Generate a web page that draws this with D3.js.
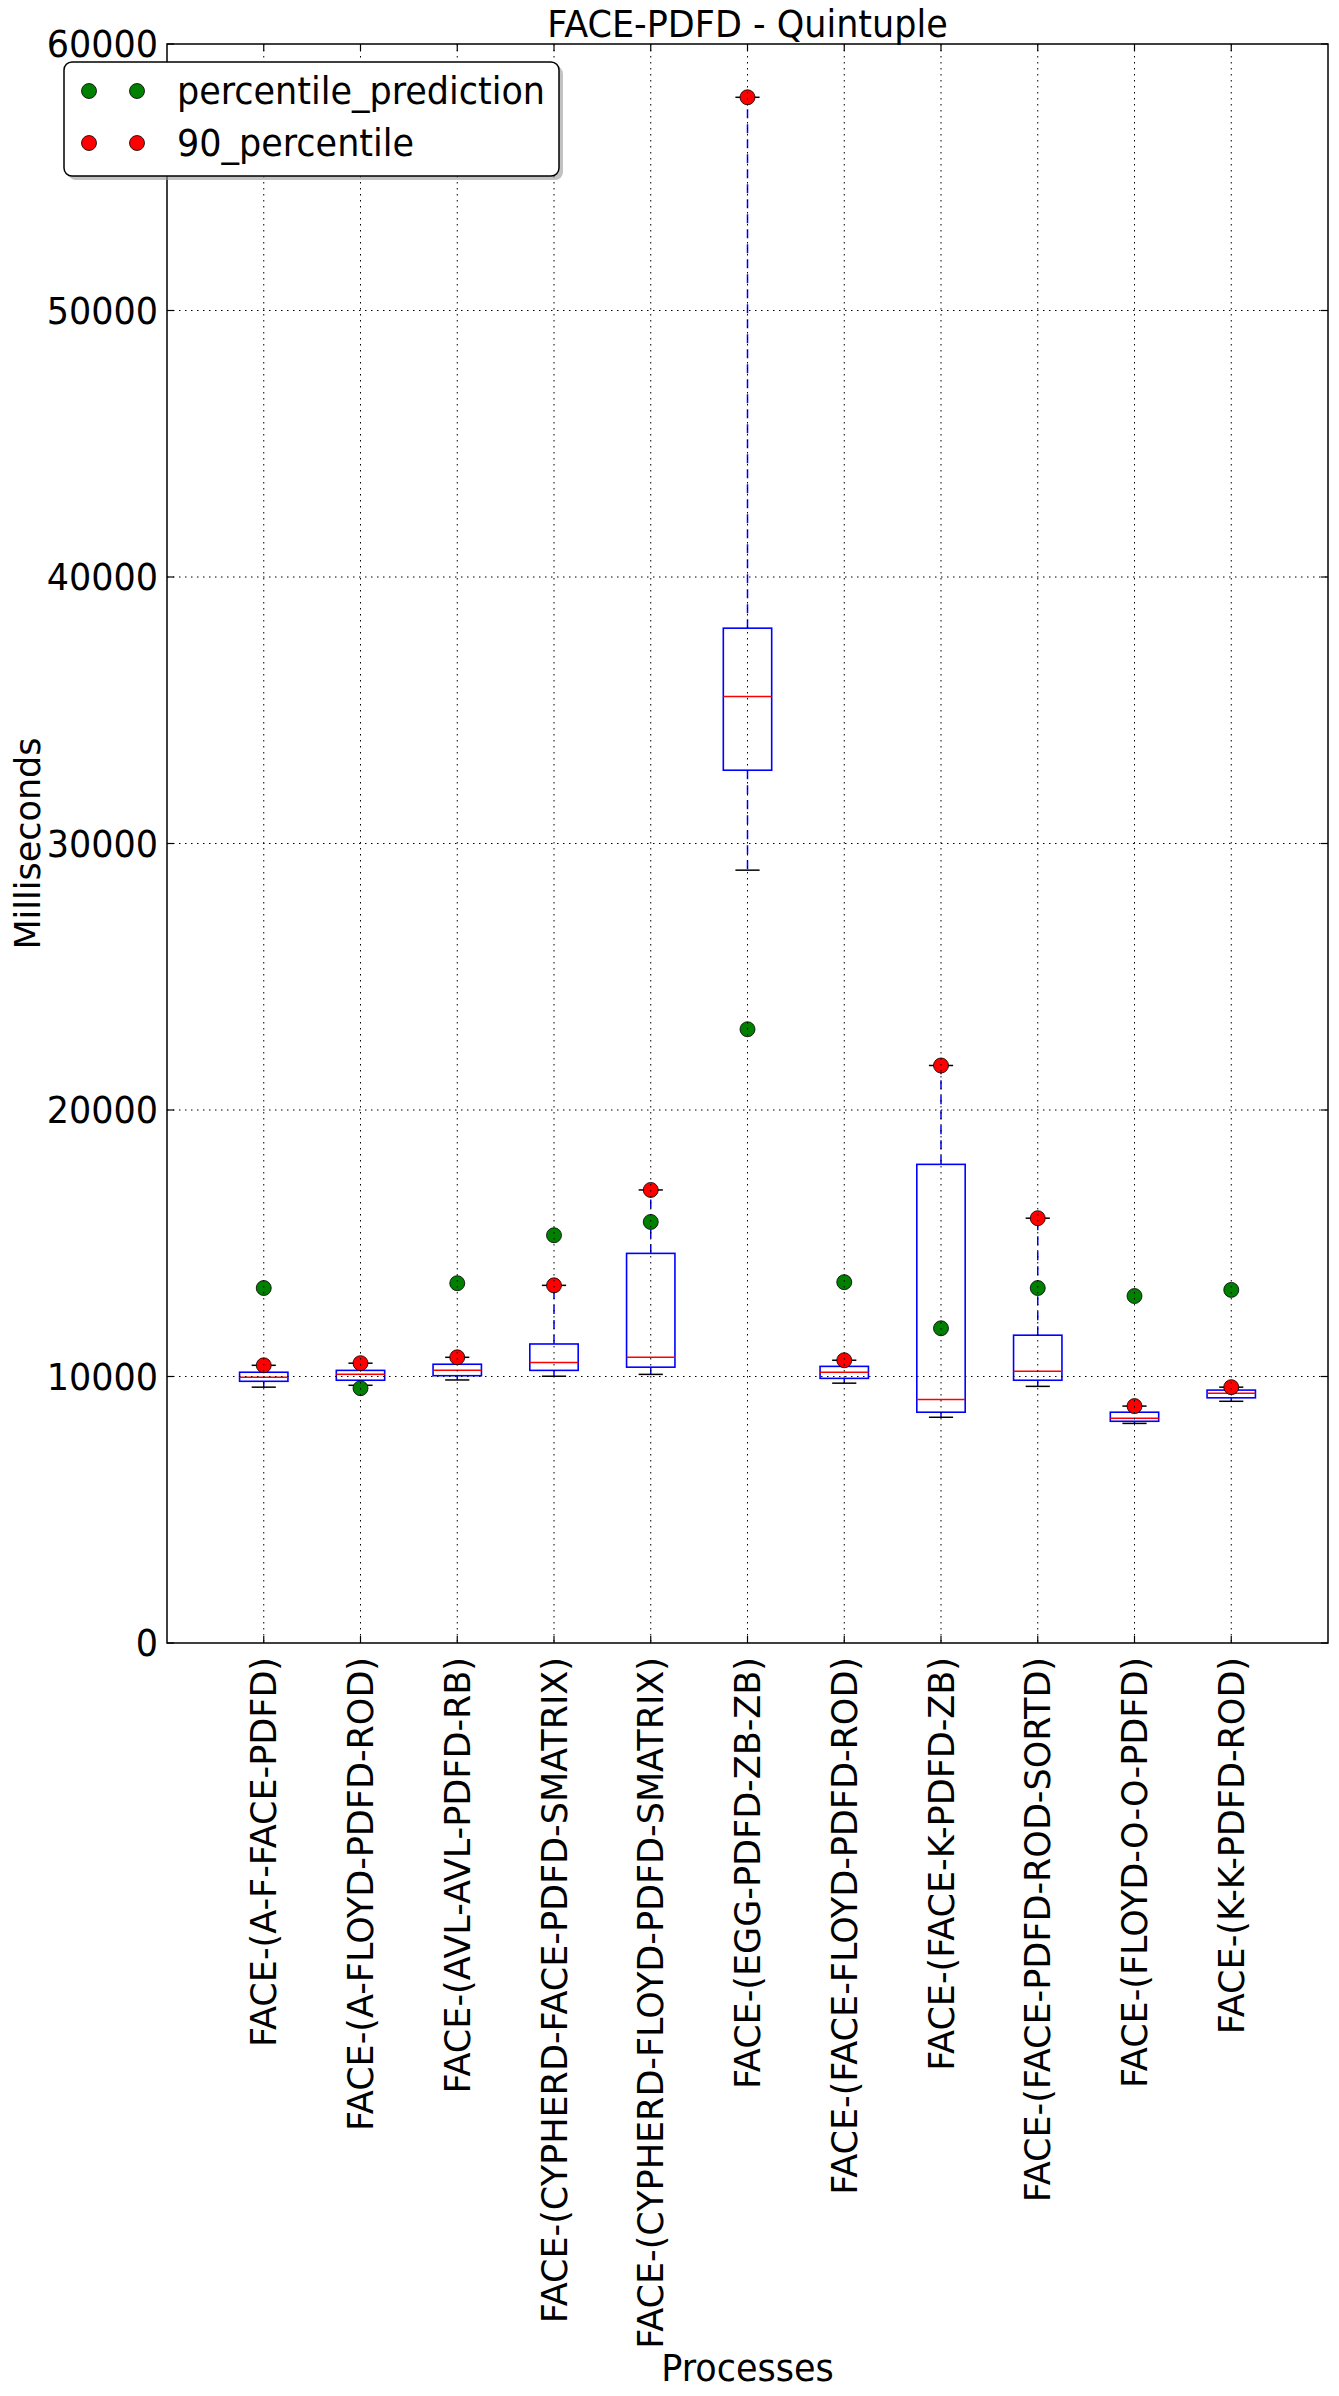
<!DOCTYPE html>
<html>
<head>
<meta charset="utf-8">
<script src="https://cdn.jsdelivr.net/npm/d3@7"></script>
<style>
  html, body { margin: 0; padding: 0; background: #fff; }
  svg { display: block; }
  text { font-family: "DejaVu Sans", sans-serif; fill: #000; }
</style>
</head>
<body>
<script>
// ---- data ----
const categories = [
  "FACE-(A-F-FACE-PDFD)",
  "FACE-(A-FLOYD-PDFD-ROD)",
  "FACE-(AVL-AVL-PDFD-RB)",
  "FACE-(CYPHERD-FACE-PDFD-SMATRIX)",
  "FACE-(CYPHERD-FLOYD-PDFD-SMATRIX)",
  "FACE-(EGG-PDFD-ZB-ZB)",
  "FACE-(FACE-FLOYD-PDFD-ROD)",
  "FACE-(FACE-K-PDFD-ZB)",
  "FACE-(FACE-PDFD-ROD-SORTD)",
  "FACE-(FLOYD-O-O-PDFD)",
  "FACE-(K-K-PDFD-ROD)"
];
const whiskerLow  = [9600, 9670, 9870, 10010, 10080, 29000, 9750, 8470, 9630, 8240, 9070];
const q1          = [9820, 9860, 10030, 10230, 10350, 32750, 9930, 8660, 9860, 8320, 9200];
const median      = [9970, 10080, 10230, 10530, 10720, 35520, 10160, 9140, 10200, 8430, 9370];
const q3          = [10160, 10230, 10460, 11220, 14620, 38080, 10380, 17960, 11550, 8660, 9490];
const whiskerHigh = [10420, 10500, 10720, 13420, 17000, 58000, 10610, 21670, 15940, 8890, 9600];
const percentilePrediction = [13320, 9560, 13500, 15300, 15800, 23030, 13540, 11810, 13320, 13020, 13250];
const percentile90 = [10420, 10500, 10720, 13420, 17000, 58000, 10610, 21670, 15940, 8890, 9600];
const yTicks = [0, 10000, 20000, 30000, 40000, 50000, 60000];
const seriesNames = ["percentile_prediction", "90_percentile"];

// ---- layout ----
const W = 1339, H = 2396;
const pL = 167, pR = 1328, pT = 44, pB = 1643;
const fs = 35;
const sy = 1.05; // slight vertical stretch of horizontal text

const svg = d3.select("body").append("svg").attr("width", W).attr("height", H);

const x = d3.scaleLinear().domain([0, categories.length + 1]).range([pL, pR]);
const y = d3.scaleLinear().domain([0, 60000]).range([pB, pT]);

const boxes = categories.map((c, i) => ({
  c, pos: i + 1, wl: whiskerLow[i], q1: q1[i], med: median[i], q3: q3[i], wh: whiskerHigh[i],
  pred: percentilePrediction[i], p90: percentile90[i]
}));

const bw = x(0.25) - x(0); // half box width
const cw = x(0.125) - x(0); // half cap width

const g = svg.append("g");

// whiskers
g.append("g").selectAll("line").data(boxes).join("line")
  .attr("x1", d => x(d.pos)).attr("x2", d => x(d.pos))
  .attr("y1", d => y(d.q1)).attr("y2", d => y(d.wl))
  .attr("stroke", "#0000ff").attr("stroke-width", 1.5).attr("stroke-dasharray", "9,6");
g.append("g").selectAll("line").data(boxes).join("line")
  .attr("x1", d => x(d.pos)).attr("x2", d => x(d.pos))
  .attr("y1", d => y(d.q3)).attr("y2", d => y(d.wh))
  .attr("stroke", "#0000ff").attr("stroke-width", 1.5).attr("stroke-dasharray", "9,6");
// caps
["wl", "wh"].forEach(k => {
  g.append("g").selectAll("line").data(boxes).join("line")
    .attr("x1", d => x(d.pos) - cw).attr("x2", d => x(d.pos) + cw)
    .attr("y1", d => y(d[k])).attr("y2", d => y(d[k]))
    .attr("stroke", "#000").attr("stroke-width", 1.5);
});
// boxes
g.append("g").selectAll("rect").data(boxes).join("rect")
  .attr("x", d => x(d.pos) - bw).attr("width", 2 * bw)
  .attr("y", d => y(d.q3)).attr("height", d => y(d.q1) - y(d.q3))
  .attr("fill", "none").attr("stroke", "#0000ff").attr("stroke-width", 1.6);
// medians
g.append("g").selectAll("line").data(boxes).join("line")
  .attr("x1", d => x(d.pos) - bw).attr("x2", d => x(d.pos) + bw)
  .attr("y1", d => y(d.med)).attr("y2", d => y(d.med))
  .attr("stroke", "#ff0000").attr("stroke-width", 1.5);

// points
g.append("g").selectAll("circle").data(boxes).join("circle")
  .attr("cx", d => x(d.pos)).attr("cy", d => y(d.pred)).attr("r", 7.5)
  .attr("fill", "#008000").attr("stroke", "#000").attr("stroke-width", 0.8);
g.append("g").selectAll("circle").data(boxes).join("circle")
  .attr("cx", d => x(d.pos)).attr("cy", d => y(d.p90)).attr("r", 7.5)
  .attr("fill", "#ff0000").attr("stroke", "#000").attr("stroke-width", 0.8);

// grid (drawn on top, classic style)
const grid = svg.append("g").attr("stroke", "#000").attr("stroke-width", 1).attr("stroke-dasharray", "1.5,4.5");
grid.append("g").selectAll("line").data(boxes).join("line")
  .attr("x1", d => x(d.pos)).attr("x2", d => x(d.pos)).attr("y1", pT).attr("y2", pB);
grid.append("g").selectAll("line").data(yTicks.filter(t => t > 0 && t < 60000)).join("line")
  .attr("x1", pL).attr("x2", pR).attr("y1", d => y(d)).attr("y2", d => y(d));

// ticks (inward, all sides)
const tk = svg.append("g").attr("stroke", "#000").attr("stroke-width", 1.2);
boxes.forEach(d => {
  tk.append("line").attr("x1", x(d.pos)).attr("x2", x(d.pos)).attr("y1", pB).attr("y2", pB - 7);
  tk.append("line").attr("x1", x(d.pos)).attr("x2", x(d.pos)).attr("y1", pT).attr("y2", pT + 7);
});
yTicks.forEach(t => {
  tk.append("line").attr("x1", pL).attr("x2", pL + 7).attr("y1", y(t)).attr("y2", y(t));
  tk.append("line").attr("x1", pR).attr("x2", pR - 7).attr("y1", y(t)).attr("y2", y(t));
});

// frame
svg.append("rect").attr("x", pL).attr("y", pT).attr("width", pR - pL).attr("height", pB - pT)
  .attr("fill", "none").attr("stroke", "#000").attr("stroke-width", 1.5);

// y tick labels
svg.append("g").selectAll("text").data(yTicks).join("text")
  .attr("transform", d => `translate(${pL - 9},${y(d)}) scale(1,${sy})`)
  .attr("dy", "0.36em")
  .attr("text-anchor", "end").attr("font-size", fs).text(d => d);

// x tick labels (rotated)
svg.append("g").selectAll("text").data(boxes).join("text")
  .attr("transform", d => `translate(${x(d.pos)},${pB + 14}) rotate(-90)`)
  .attr("dy", "0.36em").attr("text-anchor", "end").attr("font-size", fs).text(d => d.c);

// title and axis labels
svg.append("text").attr("transform", `translate(${(pL + pR) / 2},37) scale(1,${sy})`)
  .attr("text-anchor", "middle").attr("font-size", fs).text("FACE-PDFD - Quintuple");
svg.append("text").attr("transform", `translate(${(pL + pR) / 2},2381) scale(1,${sy})`)
  .attr("text-anchor", "middle").attr("font-size", fs).text("Processes");
svg.append("text").attr("transform", `translate(40,${(pT + pB) / 2}) rotate(-90)`)
  .attr("text-anchor", "middle").attr("font-size", fs).text("Milliseconds");

// legend
const lg = svg.append("g").attr("transform", "translate(64,62)");
lg.append("rect").attr("x", 4).attr("y", 4).attr("width", 495).attr("height", 114).attr("rx", 8)
  .attr("fill", "#999").attr("opacity", 0.6);
lg.append("rect").attr("x", 0).attr("y", 0).attr("width", 495).attr("height", 114).attr("rx", 8)
  .attr("fill", "#fff").attr("stroke", "#000").attr("stroke-width", 1.5);
const legendColors = ["#008000", "#ff0000"];
seriesNames.forEach((n, i) => {
  const cy = 29 + i * 52;
  [25, 73].forEach(cx => lg.append("circle").attr("cx", cx).attr("cy", cy).attr("r", 7.5)
    .attr("fill", legendColors[i]).attr("stroke", "#000").attr("stroke-width", 0.8));
  lg.append("text").attr("transform", `translate(113,${cy}) scale(1,${sy})`)
    .attr("dy", "0.36em").attr("font-size", fs).text(n);
});
</script>
</body>
</html>
